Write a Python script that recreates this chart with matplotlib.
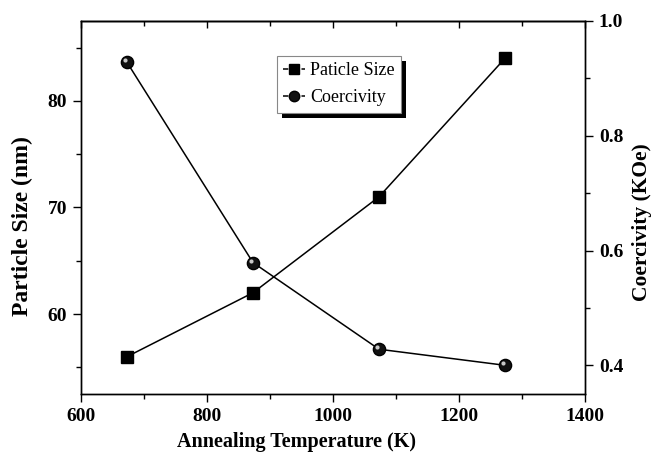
import matplotlib

matplotlib.use("Agg")
import matplotlib.pyplot as plt
import matplotlib.transforms as mtransforms
from matplotlib.lines import Line2D
from matplotlib.patches import Rectangle
from matplotlib.ticker import MultipleLocator

plt.rcParams.update({
    "font.family": ["Liberation Serif", "DejaVu Serif"],
    "font.size": 12,
    "axes.linewidth": 1.0,
})

temperature = [673, 873, 1073, 1273]
particle_size = [56, 62, 71, 84]
coercivity = [0.928, 0.579, 0.428, 0.400]

fig = plt.figure(figsize=(6.52, 4.65), dpi=100)
ax = fig.add_axes([0.1242, 0.1527, 0.7731, 0.8022])
ax2 = ax.twinx()

# sphere-like marker: black ball plus a small off-centre highlight
hl = mtransforms.ScaledTranslation(-1.3 / 72, 1.3 / 72, fig.dpi_scale_trans)

ax.plot(temperature, particle_size, color="black", lw=1.1,
        marker="s", ms=8, mfc="black", mec="black")
ax2.plot(temperature, coercivity, color="black", lw=1.1,
         marker="o", ms=8.8, mfc="#111111", mec="black")
ax2.plot(temperature, coercivity, ls="none", marker="o", ms=3,
         mfc="#dddddd", mec="none", alpha=0.9,
         transform=ax2.transData + hl)

ax.set_xlim(600, 1400)
ax.set_ylim(52.5, 87.5)
ax2.set_ylim(0.35, 1.0)

ax.xaxis.set_major_locator(MultipleLocator(200))
ax.xaxis.set_minor_locator(MultipleLocator(100))
ax.yaxis.set_major_locator(MultipleLocator(10))
ax.yaxis.set_minor_locator(MultipleLocator(5))
ax2.yaxis.set_major_locator(MultipleLocator(0.2))
ax2.yaxis.set_minor_locator(MultipleLocator(0.1))
ax2.yaxis.set_major_formatter(plt.FormatStrFormatter("%.1f"))

for a in (ax, ax2):
    a.tick_params(which="major", direction="out", length=6, width=1.0,
                  labelsize=14, pad=4)
    a.tick_params(which="minor", direction="out", length=3.5, width=1.0)
    for lbl in a.get_xticklabels() + a.get_yticklabels():
        lbl.set_fontweight("bold")

top = ax.secondary_xaxis("top")
top.xaxis.set_major_locator(MultipleLocator(200))
top.xaxis.set_minor_locator(MultipleLocator(100))
top.tick_params(which="both", direction="in", labeltop=False)
top.tick_params(which="major", length=5, width=1.0)
top.tick_params(which="minor", length=3.5, width=1.0)

ax.set_xlabel("Annealing Temperature (K)", fontsize=14.5, fontweight="bold")
ax.xaxis.set_label_coords(0.427, -0.103)
ax.set_ylabel("Particle Size (nm)", fontsize=17, fontweight="bold")
ax.yaxis.set_label_coords(-0.095, 0.45)
ax2.set_ylabel("Coercivity (KOe)", fontsize=15.5, fontweight="bold")
ax2.yaxis.set_label_coords(1.093, 0.46)

# legend handles in the "-marker-" style
h1 = Line2D([], [], color="black", lw=1.1, dashes=(3.5, 8.6),
            marker="s", ms=7, mfc="black", mec="black")
h2 = Line2D([], [], color="black", lw=1.1, dashes=(3.5, 8.6),
            marker="o", ms=7.5, mfc="#111111", mec="black")
leg = ax2.legend(handles=[h1, h2], labels=["Paticle Size", "Coercivity"],
                 loc="upper left", bbox_to_anchor=(0.389, 0.906),
                 borderaxespad=0, fontsize=13, handlelength=1.2,
                 handletextpad=0.3, borderpad=0.35, labelspacing=0.55,
                 fancybox=False, edgecolor="#888888", framealpha=1)
leg.get_frame().set_linewidth(0.8)
leg.set_zorder(6)

# offset black shadow behind the legend box
fig.canvas.draw()
bb = leg.get_window_extent()
ax2.add_patch(Rectangle((bb.x0 + 5, bb.y0 - 5), bb.width, bb.height,
                        transform=mtransforms.IdentityTransform(),
                        facecolor="black", edgecolor="none", zorder=5))

fig.savefig("out.png", dpi=100)
